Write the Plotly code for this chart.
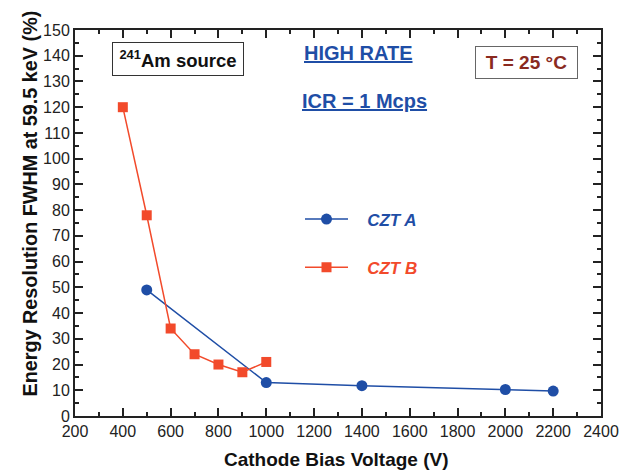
import plotly.graph_objects as go

czt_a_v = [500, 1000, 1400, 2000, 2200]
czt_a_fwhm = [49, 13, 11.8, 10.3, 9.7]
czt_b_v = [400, 500, 600, 700, 800, 900, 1000]
czt_b_fwhm = [120, 78, 34, 24, 20, 17, 21]

BLUE = "#1f4ea6"
RED = "#f24a2b"
DARKRED = "#8a2a1f"

L, R, T, B = 75, 19, 30, 55
PW, PH = 620 - L - R, 471 - T - B

def px(xp):
    return (xp - L) / PW

def py(yp):
    return (471 - B - yp) / PH

fig = go.Figure()
fig.add_trace(go.Scatter(x=czt_a_v, y=czt_a_fwhm, mode="lines+markers",
                         name=f"&nbsp;&nbsp;&nbsp;<span style='color:{BLUE}'><b><i>CZT A</i></b></span>",
                         line=dict(color=BLUE, width=1.5), marker=dict(symbol="circle", size=11, color=BLUE),
                         legendgroup="a"))
fig.add_trace(go.Scatter(x=czt_b_v, y=czt_b_fwhm, mode="lines+markers",
                         name=f"&nbsp;&nbsp;&nbsp;<span style='color:{RED}'><b><i>CZT B</i></b></span>",
                         line=dict(color=RED, width=1.5), marker=dict(symbol="square", size=10, color=RED),
                         legendgroup="b"))

font = "Liberation Sans, Arial, sans-serif"
fig.update_layout(
    width=620, height=471,
    margin=dict(l=L, r=R, t=T, b=B),
    paper_bgcolor="white", plot_bgcolor="white",
    font=dict(family=font, size=16, color="#222"),
    showlegend=True,
    legend=dict(x=px(300), y=py(201.5), xanchor="left", yanchor="top", bgcolor="rgba(0,0,0,0)",
                font=dict(size=17), tracegroupgap=23, itemwidth=43),
    xaxis=dict(range=[200, 2400], dtick=200, tick0=200, showgrid=False, zeroline=False, automargin=False,
               showline=True, linecolor="#222", linewidth=2, mirror="ticks",
               ticks="inside", ticklen=8, tickwidth=1.5, tickcolor="#222", ticklabeloverflow="allow",
               minor=dict(ticks="inside", dtick=100, ticklen=4, tickcolor="#222", tickwidth=1.5)),
    yaxis=dict(range=[0, 150], dtick=10, showgrid=False, zeroline=False, automargin=False,
               showline=True, linecolor="#222", linewidth=2, mirror="ticks",
               ticks="inside", ticklen=8, tickwidth=1.5, tickcolor="#222", ticklabeloverflow="allow",
               minor=dict(ticks="inside", dtick=5, ticklen=4, tickcolor="#222", tickwidth=1.5)),
)

# axis titles
fig.add_annotation(xref="paper", yref="paper", x=px(336), y=py(459.5), xanchor="center", yanchor="middle",
                   text="<b>Cathode Bias Voltage (V)</b>", showarrow=False, font=dict(size=19, color="#111"))
fig.add_annotation(xref="paper", yref="paper", x=px(29), y=py(203.5), xanchor="center", yanchor="middle",
                   textangle=-90,
                   text="<b>Energy Resolution FWHM at 59.5 keV (%)</b>", showarrow=False, font=dict(size=19.8, color="#111"))

fig.add_annotation(xref="paper", yref="paper", x=px(178), y=py(59), xanchor="center", yanchor="middle",
                   text="<b><sup>241</sup>Am source</b>", showarrow=False, font=dict(size=18.5, color="#111"),
                   width=120, height=22, borderpad=5,
                   bordercolor="#333", borderwidth=1, bgcolor="white")
fig.add_annotation(xref="paper", yref="paper", x=px(358), y=py(53), xanchor="center", yanchor="middle",
                   text="<b><u>HIGH RATE</u></b>", showarrow=False, font=dict(size=20, color=BLUE))
fig.add_annotation(xref="paper", yref="paper", x=px(364), y=py(101), xanchor="center", yanchor="middle",
                   text="<b><u>ICR = 1 Mcps</u></b>", showarrow=False, font=dict(size=20, color=BLUE))
fig.add_annotation(xref="paper", yref="paper", x=px(526), y=py(62.5), xanchor="center", yanchor="middle",
                   text="<b>T = 25 °C</b>", showarrow=False, font=dict(size=19, color=DARKRED),
                   width=91, height=21, borderpad=5,
                   bordercolor="#666", borderwidth=1, bgcolor="white")

fig.write_html("out.html")
